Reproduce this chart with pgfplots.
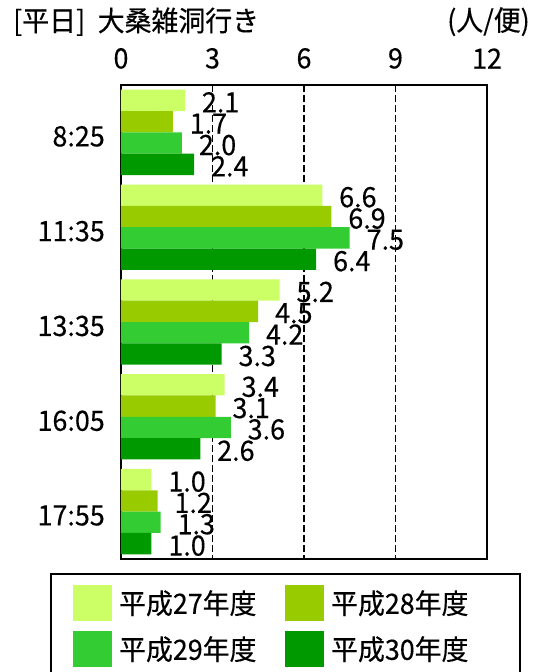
\documentclass[border=0pt]{standalone}
\usepackage{fontspec}
\setmainfont{Noto Sans CJK JP}[FakeStretch=0.96, FakeBold=0.3]
\usepackage{pgfplots}
\pgfplotsset{compat=1.18}

\definecolor{hA}{HTML}{CCFF66}
\definecolor{hB}{HTML}{99CC00}
\definecolor{hC}{HTML}{33CC33}
\definecolor{hD}{HTML}{009900}

\pgfplotsset{sqlegend/.style={legend image code/.code={\fill[##1] (0pt,-13.5pt) rectangle (29.25pt,13.5pt);}}}

\begin{document}
\begin{tikzpicture}[font=\fontsize{21pt}{25pt}\selectfont]
\begin{axis}[
    scale only axis, width=274.5pt, height=355.5pt,
    xbar, bar width=16pt,
    xmin=0, xmax=12, ymin=-0.5, ymax=4.5, y dir=reverse,
    xtick={0,3,6,9,12}, xticklabel pos=upper,
    ytick={0,1,2,3,4}, yticklabels={8:25,11:35,13:35,16:05,17:55},
    major tick length=0pt,
    xmajorgrids,
    grid style={black, line width=1.2pt, dash pattern=on 5pt off 2.5pt},
    axis line style={line width=1.6pt},
    /pgf/number format/assume math mode=true,
    xticklabel style={inner sep=0pt, anchor=south, yshift=12pt},
    yticklabel style={inner sep=0pt, anchor=east, xshift=-12pt, yshift=-3pt},
    point meta=x,
    nodes near coords={\pgfmathprintnumber[fixed,fixed zerofill,precision=1,assume math mode=true]{\pgfplotspointmeta}},
    every node near coord/.append style={anchor=west, inner sep=0pt, xshift=12.5pt, yshift=-1.5pt, black},
    legend columns=2,
    legend cell align=left,
    legend style={at={(0,0)}, anchor=north west, xshift=-53.6pt, yshift=-10.2pt,
        draw=black, line width=1.6pt, inner xsep=16.9pt, inner ysep=8.5pt,
        row sep=7.5pt, nodes={inner sep=0pt},
        /tikz/every odd column/.append style={column sep=5.25pt},
        /tikz/every even column/.append style={nodes={text width=124.5pt}}},
]
\addplot[fill=hA, draw=none, bar shift=24pt, sqlegend] coordinates {(2.1,0) (6.6,1) (5.2,2) (3.4,3) (1.0,4)};
\addplot[fill=hB, draw=none, bar shift=8pt, sqlegend] coordinates {(1.7,0) (6.9,1) (4.5,2) (3.1,3) (1.2,4)};
\addplot[fill=hC, draw=none, bar shift=-8pt, sqlegend] coordinates {(2.0,0) (7.5,1) (4.2,2) (3.6,3) (1.3,4)};
\addplot[fill=hD, draw=none, bar shift=-24pt, sqlegend] coordinates {(2.4,0) (6.4,1) (3.3,2) (2.6,3) (1.0,4)};
\legend{平成27年度,平成28年度,平成29年度,平成30年度}
\coordinate (bl) at (axis description cs:0,0);
\coordinate (tl) at (axis description cs:0,1);
\coordinate (tr) at (axis description cs:1,1);
\end{axis}
\node[anchor=west, inner sep=0pt] at ([xshift=-81pt, yshift=47.5pt]tl) {[平日]\hspace{0.45em}大桑雑洞行き};
\node[anchor=east, inner sep=0pt] at ([xshift=32.25pt, yshift=47.5pt]tr) {(人/便)};
\pgfresetboundingbox
\path[use as bounding box] ([xshift=-90.75pt, yshift=-84.75pt]bl) rectangle ([xshift=36pt, yshift=63.75pt]tr);
\end{tikzpicture}
\end{document}
